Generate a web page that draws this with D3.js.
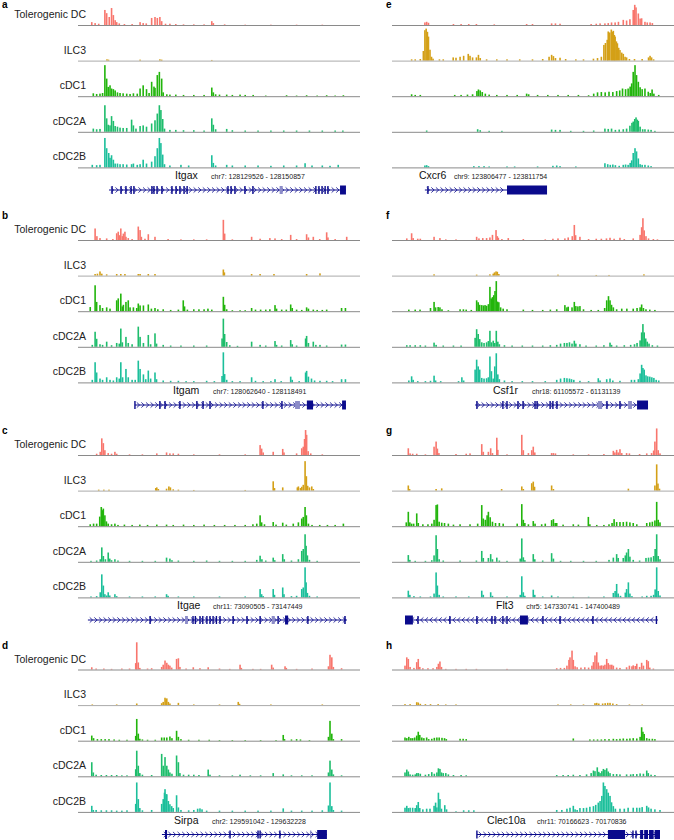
<!DOCTYPE html>
<html>
<head>
<meta charset="utf-8">
<script src="https://cdn.jsdelivr.net/npm/d3@7"></script>
<style>
  body { margin: 0; background: #fff; }
  text { font-family: "Liberation Sans", Arial, sans-serif; }
</style>
</head>
<body>
<div id="chart"></div>
<script>
var W = 674, H = 840;

var tracks = ["Tolerogenic DC", "ILC3", "cDC1", "cDC2A", "cDC2B"];
var colors = ["#f8766d", "#d4a017", "#22b50c", "#1ebd6c", "#1cbf9b"];

// coverage: [position 0-100 along locus, signal 0-100]
// a: Itgax
var a_tol = [[0.3,9],[1.6,6],[3,4],[5.4,47],[6.1,37],[7.1,25],[8,53],[8.7,31],[9.4,15],[10,9],[11,5],[13,3],[16,3],[19.1,9],[20.3,6],[21.5,5],[23.6,22],[24.9,25],[25.8,22],[26.8,25],[27.5,12],[29,4],[30.7,4],[33,3],[36,2],[40,2],[44,2],[47,12],[47.6,6],[52,2],[60,1],[70,1],[80,1],[90,1]];
var a_ilc3 = [[6.2,4],[6.8,3],[19.1,3],[26.8,4],[27.5,3],[47,2]];
var a_cdc1 = [[0.9,9],[2.2,7],[3.5,8],[4.5,10],[5.4,97],[6.1,55],[6.7,29],[7.4,34],[8,24],[8.7,22],[9.4,18],[10.3,12],[11.3,10],[12.5,9],[13.9,8],[15.2,7],[16.5,9],[18,8],[19.1,24],[20.3,34],[21.6,22],[22.6,10],[23.6,45],[24.5,30],[24.9,26],[25.8,66],[26.6,76],[27.5,55],[28.1,12],[29.5,6],[30.7,5],[33,5],[36,4],[40,4],[44,4],[47,27],[47.6,12],[48.5,6],[50,5],[52.8,5],[55,4],[58,5],[60,4],[63.1,4],[68,2],[76.1,3],[80,2],[83.9,3],[88,2],[91.7,3],[95,2],[98.2,3]];
var a_cdc2a = [[0.9,10],[2.2,8],[3.5,9],[5.4,83],[6.1,42],[6.7,22],[7.4,20],[8,49],[8.7,34],[9.4,18],[10.3,16],[11.3,13],[12.5,12],[13.9,12],[15.8,38],[16.5,20],[17.5,10],[19.1,18],[20.3,20],[21.6,16],[23.6,26],[24.9,36],[25.8,57],[26.6,83],[27.2,68],[27.9,40],[28.6,10],[30.7,6],[33,6],[36,5],[40,5],[44,4],[47,42],[47.6,22],[48.5,8],[52.8,9],[55,5],[60,4],[65,4],[70,4],[75,4],[80,4],[85,4],[90,4],[95,4],[98,4]];
var a_cdc2b = [[0.5,8],[2.2,7],[3.5,8],[5.4,92],[6.1,60],[6.9,45],[7.4,30],[8,38],[8.7,24],[9.4,12],[10.3,12],[11.3,10],[12.5,10],[13.9,9],[15.8,10],[16.5,12],[18,8],[19.1,10],[20.3,24],[21.6,12],[23.6,18],[24.9,35],[25.8,60],[26.6,92],[27.2,76],[27.9,40],[28.6,10],[30.7,6],[35,8],[38,6],[47,38],[47.6,14],[48.5,6],[52.8,8],[55,6],[60,6],[65,6],[70,5],[75,6],[80,6],[83.3,13],[86,6],[90,6],[93,5],[96.2,8]];

// b: Itgam
var b_tol = [[1.6,36],[2.3,12],[3.5,6],[6.1,5],[8.5,3],[10,21],[10.6,26],[11.2,15],[11.6,36],[12.2,12],[12.6,20],[13.2,26],[13.6,10],[14.5,6],[16,3],[18.4,42],[19.1,31],[19.6,10],[21,4],[22.3,18],[24.9,10],[30,3],[35,2],[40,2],[45,2],[51.5,63],[52,20],[55,2],[62.5,10],[65.8,4],[69.6,6],[71.6,5],[74.2,3],[77.7,16],[80,3],[83.9,18],[84.6,8],[86.5,10],[89,3],[91.7,24],[92.2,8],[95,3],[99.5,10]];
var b_ilc3 = [[1.6,5],[2.5,6],[3.5,13],[4.2,6],[6.1,4],[10,5],[11.6,5],[13.2,5],[18.4,5],[19.1,5],[22.3,5],[24.9,5],[51.5,19],[51.9,10],[62.5,5],[65.8,5],[71.2,5],[83.9,5],[89.1,7]];
var b_cdc1 = [[-0.3,13],[1.6,81],[2.2,29],[3.5,19],[4.5,10],[6.1,12],[7.4,8],[10,34],[10.6,40],[11.6,55],[12.2,15],[12.6,20],[13.6,29],[14.5,34],[15.2,12],[16.5,12],[17.8,10],[18.4,24],[19.1,18],[20.4,18],[22.3,21],[23.5,8],[24.9,10],[26,6],[28.1,6],[31,4],[34,5],[35.9,34],[36.4,15],[37.5,5],[40,6],[42,6],[44,6],[45.5,8],[47,5],[51.5,45],[52,20],[52.8,6],[55,3],[58,3],[60,3],[62.5,10],[64,5],[66,5],[68,5],[69.6,6],[71.6,19],[72.2,8],[74.2,5],[76,5],[77.7,21],[78.3,10],[80,5],[82,4],[83.9,12],[84.6,8],[86.5,5],[88,4],[90,4],[91.7,5],[97.5,10],[99,10]];
var b_cdc2a = [[0.5,6],[1.6,47],[2.2,25],[3.5,8],[4.5,6],[6.1,16],[8,5],[10,12],[11,10],[11.6,57],[12.2,14],[13.6,31],[14.5,12],[16,8],[18.4,63],[19.1,31],[20.4,12],[22.3,37],[23.2,8],[24.9,42],[25.5,10],[28.1,6],[31,4],[35,4],[40,4],[45,4],[51,26],[51.5,88],[52,40],[52.8,15],[54,5],[57,3],[62.5,16],[65.8,6],[68,4],[71.6,18],[72.2,6],[74.2,4],[77.7,21],[78.3,8],[80,4],[83.5,26],[83.9,34],[84.6,12],[86.5,16],[87.5,6],[89.1,6],[91.7,4],[97.5,7],[99,7]];
var b_cdc2b = [[0.5,8],[1.6,63],[2.2,31],[3.5,12],[4.5,8],[6.1,16],[7.4,8],[8.7,6],[10,16],[11,12],[11.6,63],[12.3,16],[13.6,42],[14.5,16],[16,8],[17.2,8],[18.4,68],[19.1,42],[20.4,25],[21.3,10],[22.3,37],[23.2,12],[24.9,31],[25.5,10],[28.1,6],[31,5],[34,5],[37,4],[40,4],[45,5],[48,4],[51,20],[51.5,94],[52,26],[52.8,8],[55,4],[58,4],[62.5,16],[64,5],[67,4],[70,4],[71.6,10],[74,4],[77.7,18],[78.3,8],[81,4],[83.5,31],[83.9,36],[84.6,18],[85.8,12],[87,6],[89.1,5],[91.7,5],[94,4],[97.5,10],[99,10]];

// c: Itgae
var c_tol = [[2.2,4],[3.6,10],[4.2,52],[4.8,37],[5.4,15],[6.7,6],[8,4],[9.3,10],[10,4],[15,2],[20,2],[25.6,5],[29.4,8],[30.7,5],[32,5],[34,4],[40,2],[50,2],[60,2],[65.8,31],[66.4,20],[67,8],[70.9,10],[74.6,19],[75.1,8],[80,5],[82,21],[82.6,26],[83.1,50],[83.5,78],[83.9,63],[84.5,12],[85.5,5],[90,2]];
var c_ilc3 = [[3,3],[5,3],[7,3],[25.2,8],[25.6,10],[26.2,5],[29.4,6],[30.3,13],[30.9,10],[32,4],[34,3],[40,2],[60,2],[70.9,29],[71.4,8],[74.6,10],[80.3,10],[80.7,13],[81.5,8],[82,12],[82.6,18],[83.3,92],[83.8,45],[84.3,15],[85,10],[85.9,13],[86.5,5]];
var c_cdc1 = [[-0.3,6],[1,8],[2.2,8],[3.4,30],[4,60],[4.4,50],[4.8,55],[5.4,34],[6,15],[6.7,8],[8,6],[9.3,8],[10.5,4],[13,5],[16,4],[19,5],[22,4],[25.6,5],[29.4,5],[32,4],[36,5],[40,4],[44,5],[48,4],[52,4],[56,4],[60,4],[63,6],[64.5,8],[65.8,34],[66.4,12],[67.5,6],[70.9,13],[72,5],[74.6,11],[76,5],[78.7,8],[80.7,12],[82,24],[82.6,29],[83.3,60],[83.8,34],[84.6,8],[86,4],[89,4],[92,4],[95,4],[98.2,8]];
var c_cdc2a = [[0,3],[2.2,4],[3.6,8],[4.2,45],[4.8,18],[5.6,8],[6.7,29],[7.3,10],[8,5],[9.3,8],[10.5,4],[15,3],[20,3],[25,3],[29.4,13],[30.7,10],[31.5,5],[34,4],[40,3],[45,4],[50,3],[55,3],[60,3],[64.5,6],[65.8,19],[66.5,8],[68,4],[70.9,13],[71.5,5],[74.6,24],[75.2,8],[78,4],[80.7,8],[82,34],[82.6,40],[83.3,86],[83.7,50],[84.2,20],[85,6],[88,3]];
var c_cdc2b = [[0,3],[2.2,4],[3.6,16],[4.2,72],[4.8,37],[5.4,10],[6.1,6],[6.7,16],[7.3,6],[9.3,10],[10,4],[15,3],[20,3],[25,3],[29.4,10],[30,5],[34,3],[40,3],[50,3],[60,3],[65.8,26],[66.4,10],[67,4],[70.9,26],[71.4,8],[74.6,31],[75.1,10],[78,4],[80,5],[82,26],[82.6,31],[83.3,94],[83.7,47],[84.2,14],[85,5],[88,3]];

// d: Sirpa
var d_tol = [[0.3,7],[2,3],[5,3],[8,2],[12,3],[15,3],[17.4,20],[17.8,85],[18.4,22],[19,5],[22,3],[23.6,4],[27.5,8],[28.1,15],[28.8,28],[29.5,21],[30.1,15],[30.7,12],[31.4,6],[33.3,33],[34,35],[34.6,8],[37,3],[39.8,7],[42.4,4],[45.6,7],[50,3],[54,2],[58,15],[58.5,5],[63,2],[66,2],[70.3,15],[70.9,6],[75.5,10],[76,5],[80,2],[86,3],[92.4,10],[93,46],[93.7,38],[94.3,8],[97.5,4]];
var d_ilc3 = [[0.5,2],[10,2],[17.8,5],[27.5,6],[28.1,10],[28.8,23],[29.2,18],[29.5,21],[30.1,10],[30.7,5],[34,7],[40,2],[50,2],[57.3,10],[57.8,4],[70,2],[90,2]];
var d_cdc1 = [[0.3,16],[1,8],[2.5,5],[4,5],[5.5,5],[7,5],[9,4],[11,3],[14,3],[17.4,15],[17.8,68],[18.4,22],[19,6],[20,4],[22,3],[25,3],[27.5,10],[28.5,10],[29.5,10],[30.7,13],[31.5,8],[33.3,31],[34,12],[35,5],[38,3],[42,3],[46,3],[50,2],[55,2],[60,2],[66,2],[72,2],[74.8,18],[75.3,5],[78,4],[80,5],[81.5,4],[85,2],[92.4,12],[93,62],[93.7,22],[94.3,5],[97.5,5]];
var d_cdc2a = [[0.3,44],[0.9,12],[2,5],[4,4],[6,4],[8,4],[10,4],[12,3],[14,3],[17.4,22],[17.8,80],[18.4,33],[19,10],[20,5],[23.6,4],[27.5,70],[28.1,33],[28.8,60],[29.5,33],[30.1,21],[30.7,12],[31.5,8],[33.3,65],[34,44],[34.6,10],[36,5],[38,5],[40,5],[42,4],[45.6,21],[46.3,5],[50,3],[55,3],[58,5],[62,3],[66,3],[70.9,10],[74.8,6],[78,3],[82,3],[86,3],[92.4,12],[93,49],[93.7,21],[94.3,6],[97.5,3]];
var d_cdc2b = [[0.3,19],[0.9,6],[2,6],[4,5],[6,5],[8,5],[10,4],[12,4],[14,5],[17.4,25],[17.8,92],[18.4,40],[19,12],[20,5],[23.6,6],[27.5,25],[28.1,40],[28.6,60],[28.8,71],[29.3,55],[29.5,55],[30.1,34],[30.7,24],[31.4,18],[32,12],[33.3,52],[34,14],[35,6],[38,5],[40,6],[41.5,10],[42.4,11],[43.2,8],[45,4],[50,4],[55,4],[60,4],[65,4],[70,4],[74.8,11],[78,4],[82,4],[86,4],[90,5],[92.4,20],[93,92],[93.7,18],[94.3,6],[97.5,4]];

// e: Cxcr6
var e_tol = [[7.8,8],[8.5,10],[9.2,7],[19,3],[22,3],[25,3],[28,3],[35,2],[47.7,3],[50,3],[57.5,5],[59,5],[60.8,4],[73,3],[75,4],[76.5,5],[78.4,5],[79.7,6],[81,8],[82.4,8],[83.7,10],[85.6,16],[86.9,14],[88.2,18],[89.5,47],[90.1,63],[90.6,55],[91.5,36],[92.2,20],[92.8,21],[94.1,10],[95,8],[96.1,8],[97,6]];
var e_ilc3 = [[2.6,4],[4,4],[6,5],[7.2,30],[7.8,95],[8.3,100],[8.8,90],[9.2,75],[9.8,34],[10.4,12],[11,6],[13.5,4],[15,4],[18.9,10],[20,9],[21.6,12],[23,15],[24.8,21],[25.5,15],[26.5,10],[28,10],[28.8,18],[29.5,8],[32,4],[36,4],[40,4],[45,4],[50,4],[54,5],[56.5,12],[57.5,18],[58.2,14],[59,8],[60.8,9],[63,5],[67,4],[70,4],[73.9,6],[75.5,8],[77,12],[78,49],[78.6,55],[79.3,65],[79.7,91],[80.3,88],[80.9,97],[81.3,90],[81.7,93],[82.1,80],[82.4,75],[82.9,60],[83.3,54],[83.8,40],[84.3,33],[85,25],[85.6,21],[86.3,12],[86.9,10],[88,5],[90,5],[93,5],[95.5,10],[96.1,15],[96.7,10],[97.5,4]];
var e_cdc1 = [[2.6,6],[4,4],[6,4],[19.5,4],[22,4],[24.5,5],[26.5,6],[28.2,16],[28.8,21],[29.5,18],[30.3,13],[31.5,8],[33,5],[36,4],[40,4],[44,4],[47.7,8],[48.5,6],[52,4],[56,4],[60,4],[64,4],[68,4],[72,3],[74,8],[75.5,12],[77,13],[78.5,12],[80,14],[81.5,13],[83,16],[84.2,18],[85.3,24],[86.5,22],[87.5,24],[88.3,30],[88.9,40],[89.5,76],[90.2,97],[90.8,66],[91.5,45],[92.2,28],[93,22],[94.1,24],[95.4,14],[96.2,10],[96.9,21],[97.6,8],[99.5,4]];
var e_cdc2a = [[8.5,4],[28.5,8],[29.5,5],[33,3],[38,3],[57.5,7],[59,6],[60.8,6],[65,3],[70,3],[74,4],[78.4,10],[79.7,9],[81,10],[82.5,6],[84,7],[85.6,8],[86.9,10],[88.2,19],[89,28],[89.5,32],[90.1,40],[90.6,45],[91.1,38],[91.5,34],[92.2,16],[93.2,8],[94.1,8],[95.4,7],[96.5,6],[98,3]];
var e_cdc2b = [[7.8,6],[8.5,7],[9.2,4],[27,4],[29,4],[31,4],[33,3],[40,3],[43,3],[52,3],[58,5],[59.5,6],[60.8,4],[67,3],[78.4,13],[79.5,10],[80.5,8],[81.5,9],[82.5,7],[84,5],[85.6,8],[86.5,9],[87.5,8],[88.3,14],[88.9,22],[89.5,45],[90.2,60],[90.8,50],[91.5,28],[92.2,10],[93,8],[94.1,8],[95.4,6],[96.5,4]];

// f: Csf1r
var f_tol = [[0.7,5],[2.6,21],[3.2,6],[5,4],[6,4],[11.4,10],[13.7,6],[16,2],[20,2],[28.1,10],[29,5],[30.5,6],[32,6],[33.3,8],[34.3,16],[35.7,31],[36.2,12],[36.6,7],[38,3],[40.5,6],[46.4,3],[55,2],[58,4],[60,5],[62.7,5],[64,8],[65.6,12],[66.4,47],[66.9,15],[68.6,10],[72,3],[75,4],[77,4],[79,5],[80.4,7],[82,4],[84.3,7],[86,3],[89.5,5],[92.2,16],[92.8,40],[93.3,68],[93.8,30],[94.5,12],[95.5,5],[97.4,3],[99,2]];
var f_ilc3 = [[11.4,4],[28.1,3],[33.3,4],[34.6,6],[35.1,10],[35.7,13],[36.2,12],[36.8,5],[60,3],[75,2],[80,2],[93.7,4]];
var f_cdc1 = [[1.5,5],[4,5],[5.9,5],[10,10],[11.4,29],[12,12],[13,13],[13.7,12],[14.5,6],[17,3],[21.6,6],[22.9,6],[24,5],[26,4],[28.1,34],[28.7,28],[29.3,20],[30.1,19],[30.8,18],[31.4,19],[32,17],[32.7,22],[33.3,76],[33.8,40],[34.3,44],[34.8,50],[35.3,63],[35.8,94],[36.3,30],[36.8,28],[37.5,12],[38.5,8],[40,6],[46.4,5],[50,4],[54,4],[57,5],[59.5,6],[62.7,19],[63.5,12],[64,14],[65.5,12],[66.4,29],[67,16],[67.8,15],[68.6,16],[70,6],[73,4],[75.8,4],[78.3,10],[79.1,34],[79.8,47],[80.4,34],[81,20],[81.7,12],[83,6],[85,8],[87,8],[89.5,8],[91,10],[92.2,12],[92.8,21],[93.5,10],[94.5,6],[96,5],[98,4]];
var f_cdc2a = [[0.7,5],[2,5],[4,5],[6,5],[8,4],[11.4,13],[12.2,6],[15,4],[19,4],[22,4],[27.5,28],[28.1,55],[28.7,40],[29.3,24],[30.1,14],[31,12],[32,14],[32.7,18],[33.3,50],[33.9,14],[34.6,19],[35.2,12],[35.8,50],[36.4,16],[37,8],[39,5],[42,4],[46,4],[50,4],[54,4],[57,5],[59.5,6],[61,10],[62.5,12],[63.5,12],[64.5,14],[65.5,10],[66.4,19],[67,10],[68.6,8],[71,4],[75,4],[78,5],[80.4,13],[81,6],[83,4],[86,5],[88.5,6],[90,8],[91,12],[92.2,20],[92.8,45],[93.3,71],[93.8,45],[94.4,26],[95,16],[95.7,10],[97,5],[99,4]];
var f_cdc2b = [[1.5,6],[2.6,19],[3.2,8],[5,4],[8,4],[10,5],[11.4,21],[12,6],[14,4],[21,4],[22.3,16],[23,6],[27.5,40],[28.1,71],[28.7,50],[29.3,40],[30.1,14],[31,12],[32,13],[32.7,16],[33.3,81],[33.9,35],[34.6,12],[35.2,50],[35.8,91],[36.4,25],[37,10],[39,6],[42,4],[46,4],[50,4],[55,4],[59.5,8],[61,12],[62.5,14],[63.5,13],[64.5,12],[65.3,10],[66.2,8],[68.6,5],[72,4],[75.8,13],[76.5,6],[79.1,10],[80.4,12],[81.5,6],[84.3,5],[88.8,8],[90,8],[91.5,10],[92.2,28],[92.8,55],[93.3,45],[93.8,40],[94.5,22],[95.2,19],[96,18],[96.8,16],[97.6,14],[98.5,8],[99.5,6]];

// g: Flt3
var g_tol = [[1.3,21],[2,5],[3,4],[4.6,4],[8,2],[11.4,26],[12.2,42],[12.7,20],[13.3,6],[20,3],[24,4],[25.5,5],[30.1,34],[30.7,10],[32.7,10],[33.6,21],[34.3,6],[36,54],[36.4,16],[40,2],[45.8,63],[46.4,15],[48.4,6],[49.7,15],[50.3,26],[50.9,8],[57.5,6],[58.2,6],[59,5],[66,2],[72,2],[78,3],[81.7,13],[82.3,8],[83,16],[83.6,8],[84.3,18],[85,6],[86.9,6],[88,5],[92,3],[94.8,5],[96.7,6],[97.5,14],[98,42],[98.7,83],[99.3,15],[100,5]];
var g_ilc3 = [[1.3,16],[1.8,5],[12.2,5],[14.4,7],[37.9,5],[45.8,13],[46.4,5],[49.7,23],[50.3,28],[50.8,12],[57.5,16],[58.2,5],[87.6,6],[98,16],[98.7,82],[99.2,22],[99.8,6]];
var g_cdc1 = [[0.5,12],[1.3,45],[1.9,12],[2.6,8],[3.4,8],[4.6,40],[5.2,10],[7,6],[9,6],[10.5,8],[11.4,20],[12.2,66],[12.7,68],[13.4,14],[14.4,11],[15.5,10],[17,8],[19,5],[21.6,6],[25.5,6],[28.5,8],[30.1,66],[30.7,24],[31.5,20],[32.2,34],[32.7,45],[33.4,28],[34.3,14],[35.5,10],[37,10],[38.5,8],[44,8],[45.8,69],[46.4,20],[47,10],[48.4,6],[50.3,16],[51,8],[53.6,6],[55,8],[57.5,19],[58.2,22],[58.9,10],[59.5,10],[62,5],[66,6],[68,5],[71.9,29],[72.5,6],[75.2,4],[78,4],[80,6],[81.2,10],[82,22],[83,13],[84.3,13],[85.6,13],[86.9,14],[88.2,12],[89.5,10],[90.9,6],[94.8,10],[96,12],[97,14],[98,18],[98.7,76],[99.3,20],[100,12]];
var g_cdc2a = [[1.3,21],[1.9,6],[4,3],[8,3],[10.5,5],[11.4,20],[12.2,83],[12.7,40],[13.4,8],[15,4],[21.6,4],[28,4],[30.1,34],[30.7,12],[32.7,12],[33.6,24],[34.3,8],[36,13],[37,4],[40,3],[45.2,10],[45.8,73],[46.4,14],[47,5],[50.3,24],[50.9,8],[54,4],[57.5,27],[58.2,10],[61,3],[65,3],[70,3],[75,3],[80,6],[81.7,13],[83,24],[83.6,12],[85.6,12],[86.4,20],[86.9,29],[87.6,40],[88.2,16],[89.5,6],[92,4],[94.5,12],[95.5,13],[96.5,14],[97.5,18],[98.1,40],[98.7,86],[99.3,18],[100,8]];
var g_cdc2b = [[1.3,21],[1.9,8],[3.5,4],[6,3],[10,3],[11.4,12],[12.2,78],[12.7,37],[13.4,8],[15,3],[20,3],[25,3],[30.1,21],[30.7,8],[33.6,16],[34.3,5],[40,3],[45.2,8],[45.8,66],[46.4,16],[47,5],[50.3,24],[50.9,8],[54,3],[57.5,6],[60,3],[66,2],[72,2],[78,3],[81.7,14],[82.4,20],[83,42],[83.6,12],[84.5,5],[86.4,15],[86.9,26],[87.6,47],[88.2,12],[89,4],[93,3],[94.8,5],[96.5,5],[97.5,8],[98.1,25],[98.7,94],[99.3,20],[100,6]];

// h: Clec10a
var h_tol = [[0,12],[0.7,38],[1.3,33],[2,8],[3.5,5],[4.6,23],[5.2,33],[5.8,8],[7,4],[9,4],[11,4],[12.5,8],[13.1,18],[13.7,25],[14.3,8],[16,2],[20,2],[24,2],[28,2],[40,2],[59.5,4],[61,5],[62.5,5],[63.5,12],[64.3,30],[64.7,38],[65.5,59],[66,30],[66.7,10],[67.5,7],[69,6],[70.5,7],[72,6],[73.3,12],[73.9,23],[74.5,44],[75.2,54],[75.8,22],[76.5,12],[77.1,13],[77.8,12],[78.4,15],[79.1,33],[79.7,20],[80.4,15],[81.1,15],[81.7,12],[83,6],[84.3,5],[86.9,7],[88,12],[89,10],[89.5,13],[90.3,11],[90.9,18],[92,8],[92.8,21],[93.5,12],[94.8,30],[95.4,26],[96,6],[97.4,3]];
var h_ilc3 = [[0,3],[2,3],[4.6,9],[5.2,8],[6,4],[8,3],[10,3],[13,3],[16,2],[20,2],[60,2],[65,2],[70,2],[74.5,6],[75.2,7],[76,5],[77.5,5],[78.5,6],[79.5,7],[80.4,7],[81.5,5],[83,3],[88,2],[93,2]];
var h_cdc1 = [[0,10],[0.7,8],[1.5,12],[2.3,8],[3,8],[3.8,10],[4.6,16],[5.2,28],[5.8,18],[6.6,10],[7.4,8],[8.5,10],[9.3,5],[10.5,6],[11.5,9],[12.5,10],[13.4,10],[14.5,9],[15.5,8],[16.2,5],[21.6,6],[22.8,6],[24,5],[66,7],[72.5,4],[74,4],[75.5,4],[77,4],[78.4,5],[80,5],[81.7,6],[83,5],[84.3,6],[85.6,7],[87,6],[88.2,7],[89.5,8],[90.9,7],[92.2,12],[92.8,42],[93.3,28],[93.8,21],[94.8,8],[95.8,6],[97,6],[98,5]];
var h_cdc2a = [[0,12],[0.7,21],[1.3,15],[2,6],[3,5],[4,6],[4.6,10],[5.2,10],[6,8],[8,5],[9.3,7],[10.5,13],[11.5,8],[12.5,12],[13.1,25],[13.7,23],[14.3,12],[15,10],[16,10],[17,6],[19,4],[22,4],[24,3],[59.5,4],[62,4],[64,4],[66,5],[68.6,4],[71.2,6],[73,10],[73.9,18],[74.5,16],[75.4,28],[76,14],[76.5,10],[77.2,16],[77.8,23],[78.4,20],[79.1,25],[79.7,15],[80.4,10],[81.7,7],[83,7],[84.3,6],[86.9,6],[88.5,6],[89.5,7],[90.9,7],[92.2,9],[93.5,8],[94.8,18],[95.4,10],[96.5,5],[98,4]];
var h_cdc2b = [[0,13],[0.7,19],[1.3,12],[2,13],[3,13],[4,12],[4.6,21],[5.2,31],[5.8,12],[7,8],[8.5,10],[9.8,10],[11.4,19],[12,29],[12.5,14],[13.1,60],[13.7,40],[14.3,10],[15.6,21],[16.3,8],[20,2],[23,5],[25,5],[27,5],[59.5,6],[61.5,6],[63.5,10],[64.7,13],[66,19],[66.7,8],[67.5,6],[68.6,12],[70,12],[71.2,13],[72.5,16],[73.9,18],[74.8,22],[75.8,29],[76.5,34],[77.2,50],[77.8,92],[78.4,81],[79.1,71],[79.7,60],[80.4,50],[81,30],[81.7,18],[82.5,10],[84.3,10],[86,10],[87.5,13],[89.5,13],[90.9,13],[92,13],[93,15],[94.8,19],[95.5,14],[96.5,10],[98,8],[100,6]];

// gene models: span [start, end], exons [start, end, kind] (0 thin, 1 pale, 2 thick)
var geneNames = ["Itgax", "Itgam", "Itgae", "Sirpa", "Cxcr6", "Csf1r", "Flt3", "Clec10a"];
var geneLoci = ["chr7: 128129526 - 128150857", "chr7: 128062640 - 128118491", "chr11: 73090505 - 73147449",
  "chr2: 129591042 - 129632228", "chr9: 123806477 - 123811754", "chr18: 61105572 - 61131139",
  "chr5: 147330741 - 147400489", "chr11: 70166623 - 70170836"];
var geneStrand = [1, 1, 1, 1, 1, 1, -1, 1];
var geneSpans = [[7.0, 99.2], [17.1, 99.2], [-1.2, 99.6], [27.6, 91.8], [7.8, 40], [27.5, 91], [0, 99.2], [28.2, 100]];
var a_exons = [[8.2,8.2,0],[11.7,11.7,0],[13.6,13.6,0],[15.6,15.6,0],[16.7,16.7,0],[23.7,23.7,0],[24.5,24.5,0],[25.7,25.7,0],[27.6,27.6,0],[31.5,31.5,0],[33.1,33.1,0],[34.6,34.6,0],[36.2,36.2,0],[37.4,37.4,0],[53.3,53.3,0],[54.5,54.5,0],[56,56,0],[59.9,59.9,0],[63,63,0],[73.4,74.6,1],[87.5,87.5,0],[88.7,88.7,0],[89.9,89.9,0],[91.1,91.1,0],[92.2,92.2,0],[96.9,99.2,2]];
var b_exons = [[17.1,17.1,0],[26.8,26.8,0],[28.8,28.8,0],[34.6,34.6,0],[41.2,41.2,0],[43.6,43.6,0],[46.3,46.3,0],[66.9,66.9,0],[74.3,74.3,0],[79.4,81.3,1],[84,86.4,2],[97.7,99.2,2]];
var c_exons = [[23,23,0],[36.6,37.7,1],[39.7,39.7,0],[40.6,40.6,0],[42.4,42.4,0],[43.5,43.5,0],[45.1,45.1,0],[46.3,46.3,0],[47.5,47.5,0],[48.8,48.8,0],[50.2,50.2,0],[55.3,55.3,0],[60.7,60.7,0],[65.8,65.8,0],[70.3,71.5,1],[72.8,72.8,0],[75.5,76.7,2],[84.4,84.4,0],[98.8,99.4,0]];
var d_exons = [[28.8,29.6,2],[54.1,54.1,0],[65,65,0],[65.8,65.8,0],[73.5,73.5,0],[85.2,85.6,1],[88,91.8,2]];
var e_exons = [[9,9,0],[40,55.7,2]];
var f_exons = [[28.2,28.2,0],[38.4,38.4,0],[40,40,0],[44.3,44.3,0],[46.3,46.3,0],[51,51,0],[51.8,51.8,0],[56.9,56.9,0],[58,58,0],[59.6,59.6,0],[75.7,77.3,1],[79.2,79.2,0],[84.3,84.3,0],[87.5,89,1],[91,95.3,2]];
var g_exons = [[0,3.1,2],[5.1,5.1,0],[17.6,17.6,0],[28.2,28.2,0],[34.1,34.1,0],[35.3,35.3,0],[38.4,38.4,0],[40,40,0],[45.1,48.2,2],[54.1,54.1,0],[60.8,60.8,0],[73.7,73.7,0],[98.6,98.6,0]];
var h_exons = [[28.2,28.2,0],[79.6,86.3,2],[89.4,89.4,0],[90.6,90.6,0],[92.2,93.4,2],[93.8,95.3,2],[95.7,97.5,2],[97.9,100,2]];

var panelLetters = ["a", "b", "c", "d", "e", "f", "g", "h"];
var panelTracks = [
  [a_tol, a_ilc3, a_cdc1, a_cdc2a, a_cdc2b],
  [b_tol, b_ilc3, b_cdc1, b_cdc2a, b_cdc2b],
  [c_tol, c_ilc3, c_cdc1, c_cdc2a, c_cdc2b],
  [d_tol, d_ilc3, d_cdc1, d_cdc2a, d_cdc2b],
  [e_tol, e_ilc3, e_cdc1, e_cdc2a, e_cdc2b],
  [f_tol, f_ilc3, f_cdc1, f_cdc2a, f_cdc2b],
  [g_tol, g_ilc3, g_cdc1, g_cdc2a, g_cdc2b],
  [h_tol, h_ilc3, h_cdc1, h_cdc2a, h_cdc2b]
];
var panelExons = [a_exons, b_exons, c_exons, d_exons, e_exons, f_exons, g_exons, h_exons];

// layout
var rowTops = [25, 240, 455, 669.5];
var trackGap = 35.6, trackH = 32;
var cols = [
  { line: [78, 360], range: [91, 348], letterX: 2, labels: true },
  { line: [392, 674], range: [405, 660], letterX: 386, labels: false }
];
var nameAt = [32.7, 31.9, 33.5, 32.3, 5.5, 34.5, 35.7, 32.2];
var lociAt = [46.7, 47.5, 47.5, 47.1, 19.2, 49.8, 47.5, 51.8];
var geneColor = "#0a0a8c", paleColor = "#8c8cc8";

var svg = d3.select("#chart").append("svg")
  .attr("width", W).attr("height", H);

panelLetters.forEach(function(letter, p) {
  var col = cols[Math.floor(p / 4)];
  var top = rowTops[p % 4];
  var x = d3.scaleLinear().domain([0, 100]).range(col.range);
  var g = svg.append("g");

  g.append("text")
    .attr("x", col.letterX).attr("y", Math.max(8, top - 21))
    .attr("font-size", 10).attr("font-weight", "bold")
    .text(letter);

  panelTracks[p].forEach(function(data, t) {
    var base = top + t * trackGap;
    var y = d3.scaleLinear().domain([0, 100]).range([base, base - trackH]);

    if (col.labels) {
      g.append("text")
        .attr("x", 86).attr("y", base - 7)
        .attr("text-anchor", "end")
        .attr("font-size", 10.5).attr("fill", "#222")
        .text(tracks[t]);
    }

    g.selectAll(null)
      .data(data)
      .enter().append("rect")
      .attr("x", function(d) { return x(d[0]) - 0.8; })
      .attr("y", function(d) { return y(d[1]); })
      .attr("width", 1.6)
      .attr("height", function(d) { return base - y(d[1]); })
      .attr("fill", colors[t]);

    g.append("line")
      .attr("x1", col.line[0]).attr("x2", col.line[1])
      .attr("y1", base + 0.5).attr("y2", base + 0.5)
      .attr("stroke", t === 1 ? "#aaa" : "#8a8a8a").attr("stroke-width", 1);
  });

  // gene label
  var labelY = top + 4 * trackGap + 12;
  var span = geneSpans[p];
  g.append("text")
    .attr("x", x(nameAt[p])).attr("y", labelY)
    .attr("font-size", 10.5).attr("fill", "#111")
    .text(geneNames[p]);
  g.append("text")
    .attr("x", x(lociAt[p])).attr("y", labelY)
    .attr("font-size", 7).attr("fill", "#222")
    .text(geneLoci[p]);

  // gene model
  var gy = top + 165;
  g.append("line")
    .attr("x1", x(span[0])).attr("x2", x(span[1]))
    .attr("y1", gy).attr("y2", gy)
    .attr("stroke", geneColor).attr("stroke-width", 1);

  var step = 4.6 / (col.range[1] - col.range[0]) * 100;
  var chev = d3.range(span[0] + step * 0.7, span[1] - step * 0.3, step);
  var dir = geneStrand[p];
  g.selectAll(null)
    .data(chev)
    .enter().append("path")
    .attr("d", function(d) {
      var cx = x(d);
      return "M" + (cx - 1.4 * dir) + "," + (gy - 2.6) + "L" + (cx + 1.4 * dir) + "," + gy + "L" + (cx - 1.4 * dir) + "," + (gy + 2.6);
    })
    .attr("fill", "none").attr("stroke", geneColor).attr("stroke-width", 0.8);

  g.selectAll(null)
    .data(panelExons[p])
    .enter().append("rect")
    .attr("x", function(d) { return x(d[0]) - (d[2] === 0 ? 0.7 : 0); })
    .attr("width", function(d) { return Math.max(1.4, x(d[1]) - x(d[0])); })
    .attr("y", function(d) { return gy - (d[2] === 2 ? 4.5 : 4); })
    .attr("height", function(d) { return d[2] === 2 ? 9 : 8; })
    .attr("fill", function(d) { return d[2] === 1 ? paleColor : geneColor; });
});
</script>
</body>
</html>
